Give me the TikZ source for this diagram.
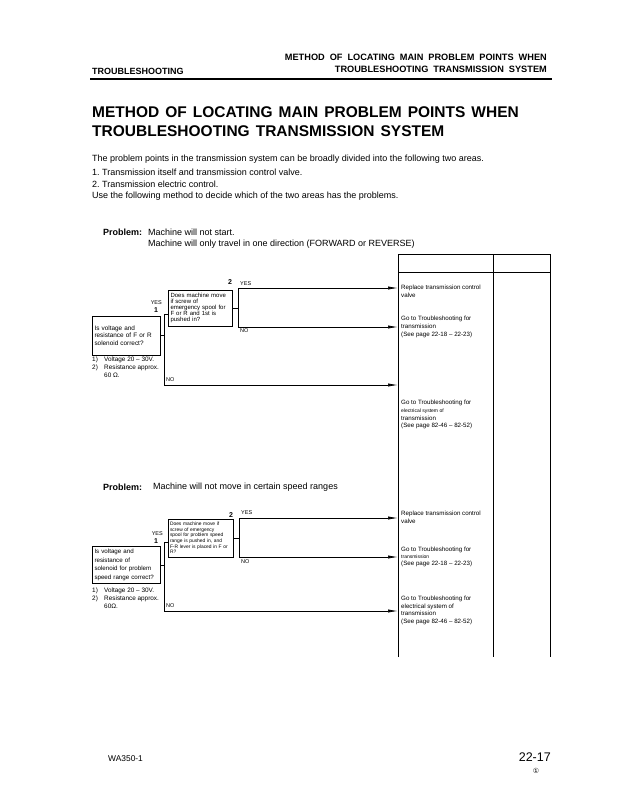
\documentclass[tikz,border=0pt]{standalone}
\usepackage{fontspec}
\setmainfont{Liberation Sans}
\newfontfamily\dejavu{DejaVu Sans}
\usetikzlibrary{arrows.meta}
\newcommand{\fsz}[2]{\fontsize{#1}{#2}\selectfont}
\newcommand{\wsA}{\spaceskip=5pt plus 1pt\relax}
\newcommand{\wsB}{\spaceskip=6pt plus 1pt\relax}
\tikzset{
  txt/.style={inner sep=0pt, anchor=west},
  tblock/.style={inner sep=0pt, anchor=north west, align=left},
  qbox/.style={draw, line width=0.7pt, inner sep=2.5pt, align=left},
  ln/.style={line width=0.7pt},
  arr/.style={line width=0.7pt, -{Latex[length=10pt,width=3.2pt]}},
  lbl/.style={inner sep=0pt, font=\fsz{5.5}{6}},
  num/.style={inner sep=0pt, font=\fsz{7}{7}\bfseries},
}
\begin{document}
\begin{tikzpicture}[x=1pt,y=-1pt]
\useasboundingbox (0,0) rectangle (622,798);
\fill[white] (0,0) rectangle (622,798);

% header
\node[inner sep=0pt, anchor=east, font=\fsz{9.2}{10}\bfseries] (hr1) at (547,57) {\wsA METHOD OF LOCATING MAIN PROBLEM POINTS WHEN};
\node[inner sep=0pt, anchor=east, font=\fsz{9.2}{10}\bfseries] (hr2) at (547,69) {\wsA TROUBLESHOOTING TRANSMISSION SYSTEM};
\node[txt, font=\fsz{9}{10}\bfseries] (hl) at (92,71) {TROUBLESHOOTING};
\coordinate (rl) at (90,79);
\coordinate (rr) at (552,79);
\draw[line width=1.6pt] (rl) -- (rr);

% title
\node[txt, font=\fsz{15.5}{18}\bfseries] (ti1) at (92,112) {\wsB METHOD OF LOCATING MAIN PROBLEM POINTS WHEN};
\node[txt, font=\fsz{15.5}{18}\bfseries] (ti2) at (92,131) {\wsB TROUBLESHOOTING TRANSMISSION SYSTEM};

% intro
\node[txt, font=\fsz{9}{10}] (b1) at (92,159) {The problem points in the transmission system can be broadly divided into the following two areas.};
\node[txt, font=\fsz{9}{10}] (b2) at (92,172) {1.\ Transmission itself and transmission control valve.};
\node[txt, font=\fsz{9}{10}] (b3) at (92,184) {2.\ Transmission electric control.};
\node[txt, font=\fsz{9}{10}] (b4) at (92,196) {Use the following method to decide which of the two areas has the problems.};

% problem 1
\node[txt, font=\fsz{9}{10}\bfseries] (p1) at (103,232) {Problem:};
\node[txt, font=\fsz{9}{10}] (p1a) at (148,232) {Machine will not start.};
\node[txt, font=\fsz{9}{10}] (p1b) at (148,244) {Machine will only travel in one direction (FORWARD or REVERSE)};

% table
\coordinate (tl) at (398,254);
\coordinate (tm) at (493,254);
\coordinate (tr) at (550,254);
\coordinate (bl) at (398,657);
\coordinate (bm) at (493,657);
\coordinate (br) at (550,657);
\draw[ln] (bl) -- (tl) -- (tr) -- (br);
\draw[ln] (tm) -- (bm);
\draw[ln] (398,272) -- (550,272);

% flow 1
\node[qbox, minimum width=68, minimum height=39, text width=63, font=\fsz{6.4}{7.3}] (q1) at (126,335.5)
  {Is voltage and\\resistance of F or R\\solenoid correct?};
\node[qbox, minimum width=64, minimum height=36, text width=59, font=\fsz{6}{5.9}] (q2) at (200,308)
  {Does machine move\\if screw of\\emergency spool for\\F or R and 1st is\\pushed in?};
\node[txt, font=\fsz{6.4}{7}] (n1a) at (92,359.5) {1)};
\node[txt, font=\fsz{6.4}{7}] (n1b) at (104,359.5) {Voltage 20 -- 30V.};
\node[txt, font=\fsz{6.4}{7}] (n1c) at (92,367.5) {2)};
\node[txt, font=\fsz{6.4}{7}] (n1d) at (104,367.5) {Resistance approx.};
\node[txt, font=\fsz{6.4}{7}] (n1e) at (104,375) {60 Ω.};

\coordinate (j1t) at (164,314);
\coordinate (j1b) at (164,385);
\coordinate (j2t) at (238,288);
\coordinate (j2b) at (238,327);
\draw[ln] (q1.east) -- (q1.east -| j1t);
\draw[ln] (j1t -| q2.west) -- (j1t) -- (j1b);
\draw[ln] (q2.east) -- (q2.east -| j2t);
\draw[ln] (j2t) -- (j2b);
\coordinate (e1) at (398,288);
\coordinate (e2) at (398,327);
\coordinate (e3) at (398,385);
\draw[arr] (j2t) -- (e1);
\draw[arr] (j2b) -- (e2);
\draw[arr] (j1b) -- (e3);

\node[lbl, anchor=east] (y1) at (162,303) {YES};
\node[num] (k1) at (156,310.5) {1};
\node[num] (k2) at (230,282) {2};
\node[lbl, anchor=west] (y2) at (240,284) {YES};
\node[lbl, anchor=west] (no2) at (240,331) {NO};
\node[lbl, anchor=west] (no1) at (166,380) {NO};

\node[tblock, font=\fsz{6.2}{7.6}] (t1) at (401,285) {Replace transmission control\\valve};
\node[tblock, font=\fsz{6.2}{8}] (t2) at (401,316) {Go to Troubleshooting for\\transmission\\(See page 22-18 -- 22-23)};
\node[tblock, font=\fsz{6.2}{7.7}] (t3) at (401,400) {Go to Troubleshooting for\\{\fsz{5}{7.7}electrical system of}\\transmission\\(See page 82-46 -- 82-52)};

% problem 2
\node[txt, font=\fsz{9}{10}\bfseries] (p2) at (103,487) {Problem:};
\node[txt, font=\fsz{9}{10}] (p2a) at (153,487) {Machine will not move in certain speed ranges};

\node[qbox, minimum width=68, minimum height=36, text width=63, font=\fsz{6.2}{8.6}] (q3) at (126,565)
  {Is voltage and\\resistance of\\solenoid for problem\\speed range correct?};
\node[qbox, minimum width=64, minimum height=38, text width=62, inner sep=1.5pt, font=\fsz{4.9}{5.6}] (q4) at (201,538)
  {Does machine move if\\screw of emergency\\spool for problem speed\\range is pushed in, and\\F-R lever is placed in F or\\R?};
\node[txt, font=\fsz{6.4}{7}] (n2a) at (92,591) {1)};
\node[txt, font=\fsz{6.4}{7}] (n2b) at (104,591) {Voltage 20 -- 30V.};
\node[txt, font=\fsz{6.4}{7}] (n2c) at (92,599) {2)};
\node[txt, font=\fsz{6.4}{7}] (n2d) at (104,599) {Resistance approx.};
\node[txt, font=\fsz{6.4}{7}] (n2e) at (104,606) {60Ω.};

\coordinate (j3t) at (164,542);
\coordinate (j3b) at (164,611);
\coordinate (j4t) at (239,518);
\coordinate (j4b) at (239,557);
\draw[ln] (q3.east) -- (q3.east -| j3t);
\draw[ln] (j3t -| q4.west) -- (j3t) -- (j3b);
\draw[ln] (q4.east) -- (q4.east -| j4t);
\draw[ln] (j4t) -- (j4b);
\coordinate (e4) at (398,518);
\coordinate (e5) at (398,557);
\coordinate (e6) at (398,611);
\draw[arr] (j4t) -- (e4);
\draw[arr] (j4b) -- (e5);
\draw[arr] (j3b) -- (e6);

\node[lbl, anchor=east] (y3) at (163,534) {YES};
\node[num] (k3) at (156,541.5) {1};
\node[num] (k4) at (231,515) {2};
\node[lbl, anchor=west] (y4) at (241,513) {YES};
\node[lbl, anchor=west] (no4) at (241,562) {NO};
\node[lbl, anchor=west] (no3) at (166,606) {NO};

\node[tblock, font=\fsz{6.2}{7.8}] (t4) at (401,511) {Replace transmission control\\valve};
\node[tblock, font=\fsz{6.2}{7}] (t5) at (401,547) {Go to Troubleshooting for\\{\fsz{5}{7}transmission}\\(See page 22-18 -- 22-23)};
\node[tblock, font=\fsz{6.2}{7.5}] (t6) at (401,596) {Go to Troubleshooting for\\electrical system of\\transmission\\(See page 82-46 -- 82-52)};

% footer
\node[txt, font=\fsz{8.4}{10}] (f1) at (108,759) {WA350-1};
\node[inner sep=0pt, anchor=east, font=\fsz{12.5}{14}] (f2) at (551,757) {22-17};
\node[inner sep=0pt, font=\dejavu\fsz{7}{8}] (f3) at (536,771) {①};
\end{tikzpicture}
\end{document}
